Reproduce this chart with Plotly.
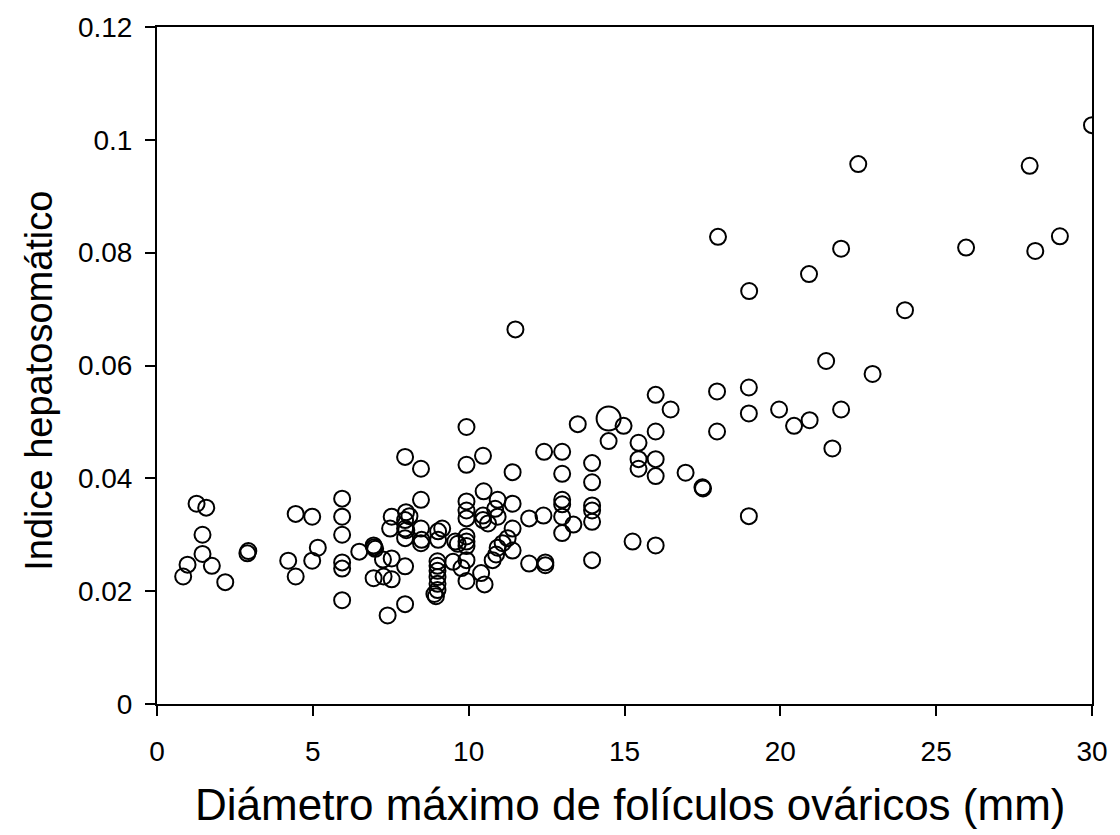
import plotly.graph_objects as go

# Diámetro máximo de folículos ováricos (mm) e índice hepatosomático por hembra
diametro = [
    1.27, 1.58, 1.46, 1.46, 0.98, 1.76, 0.84, 2.19, 2.93, 2.90,
    4.45, 4.98, 5.94, 5.94, 5.94, 5.16, 4.98, 4.21, 4.45, 5.94,
    5.94, 5.94, 6.49, 6.95, 6.97, 7.00, 6.95,
    7.27, 7.53, 7.40, 7.25, 7.53, 7.53, 7.48, 7.96, 8.47, 8.47,
    7.99, 8.10, 7.96, 7.96, 8.00, 8.47, 7.96, 8.49, 8.47, 7.96,
    7.96, 9.02, 9.15, 9.02,
    9.00, 9.00, 9.00, 9.00, 9.00, 9.00, 8.90, 8.95,
    9.57, 9.65, 9.50, 9.77, 9.93, 9.93, 9.93, 9.93, 9.93, 9.93,
    9.93, 9.93, 9.93, 9.93, 10.46, 10.48, 10.46, 10.46, 10.62, 10.40,
    10.51,
    10.93, 10.85, 10.93, 11.41, 11.41, 11.41, 11.25, 11.09, 10.93, 11.41,
    10.88, 10.77, 11.50, 11.94, 11.94, 12.40, 12.42, 12.46, 12.46,
    13.00, 13.00, 13.00, 13.00, 13.00, 13.00, 13.36, 13.50, 13.96, 13.96,
    13.96, 13.96, 13.96, 13.96,
    14.49, 14.97, 15.45, 15.45, 15.45, 15.26, 16.00, 16.00, 16.00, 16.00,
    16.00, 16.48, 16.96, 17.50, 17.52,
    17.97, 17.97, 18.00, 18.99, 18.99, 18.99, 19.00, 19.96, 20.44, 20.94,
    20.92, 21.47, 21.67, 21.95, 21.95, 22.50, 22.96, 24.00, 25.96, 28.00,
    28.18, 28.97, 30.00,
]

ihs = [
    0.0355, 0.0348, 0.0300, 0.0266, 0.0247, 0.0245, 0.0226, 0.0216, 0.0271, 0.0267,
    0.0337, 0.0332, 0.0364, 0.0332, 0.0300, 0.0277, 0.0254, 0.0254, 0.0226, 0.0251,
    0.0240, 0.0184, 0.0270, 0.0281, 0.0278, 0.0275, 0.0223,
    0.0226, 0.0221, 0.0157, 0.0256, 0.0258, 0.0332, 0.0311, 0.0438, 0.0417, 0.0362,
    0.0340, 0.0333, 0.0326, 0.0311, 0.0308, 0.0311, 0.0294, 0.0291, 0.0285, 0.0244,
    0.0177, 0.0306, 0.0311, 0.0291,
    0.0253, 0.0245, 0.0236, 0.0225, 0.0213, 0.0202, 0.0195, 0.0191,
    0.0288, 0.0284, 0.0252, 0.0241, 0.0255, 0.0218, 0.0491, 0.0424, 0.0359, 0.0343,
    0.0329, 0.0297, 0.0288, 0.0280, 0.0440, 0.0377, 0.0334, 0.0326, 0.0320, 0.0232,
    0.0212,
    0.0362, 0.0346, 0.0332, 0.0411, 0.0355, 0.0311, 0.0294, 0.0285, 0.0277, 0.0272,
    0.0265, 0.0255, 0.0664, 0.0329, 0.0249, 0.0334, 0.0447, 0.0251, 0.0246,
    0.0447, 0.0408, 0.0362, 0.0354, 0.0332, 0.0303, 0.0318, 0.0496, 0.0427, 0.0393,
    0.0352, 0.0343, 0.0323, 0.0255,
    0.0466, 0.0493, 0.0463, 0.0434, 0.0417, 0.0288, 0.0548, 0.0483, 0.0434, 0.0404,
    0.0281, 0.0522, 0.0410, 0.0384, 0.0382,
    0.0554, 0.0483, 0.0828, 0.0561, 0.0515, 0.0333, 0.0732, 0.0522, 0.0493, 0.0503,
    0.0762, 0.0608, 0.0453, 0.0522, 0.0807, 0.0957, 0.0585, 0.0698, 0.0809, 0.0954,
    0.0803, 0.0829, 0.1026,
]

# Registro destacado con marcador mayor
diametro_destacado = [14.49]
ihs_destacado = [0.0506]

x_ticks = [0, 5, 10, 15, 20, 25, 30]
y_ticks = [0, 0.02, 0.04, 0.06, 0.08, 0.1, 0.12]
y_tick_text = ["0", "0.02", "0.04", "0.06", "0.08", "0.1", "0.12"]

FONT = "Liberation Sans, Arial, sans-serif"

fig = go.Figure()
fig.add_trace(go.Scatter(
    x=diametro, y=ihs, mode="markers",
    marker=dict(symbol="circle-open", size=16, color="black",
                line=dict(width=2, color="black")),
    hoverinfo="x+y", showlegend=False,
))
fig.add_trace(go.Scatter(
    x=diametro_destacado, y=ihs_destacado, mode="markers",
    marker=dict(symbol="circle-open", size=24, color="black",
                line=dict(width=2, color="black")),
    hoverinfo="x+y", showlegend=False,
))

axis_common = dict(
    showgrid=False, zeroline=False, showline=True, linecolor="black",
    linewidth=2, mirror=True, ticks="outside", ticklen=10, tickwidth=2,
    tickcolor="black", tickfont=dict(family=FONT, size=28, color="black"),
)

fig.update_layout(
    width=1120, height=835,
    margin=dict(l=157, r=22, t=21, b=131),
    paper_bgcolor="white", plot_bgcolor="white",
    font=dict(family=FONT, color="black"),
    xaxis=dict(range=[0, 30], tickvals=x_ticks, ticklabelstandoff=11,
               **axis_common),
    yaxis=dict(range=[0, 0.12], tickvals=y_ticks, ticktext=y_tick_text,
               ticklabelstandoff=7, **axis_common),
    annotations=[
        dict(text="Diámetro máximo de folículos ováricos (mm)",
             xref="paper", yref="paper", x=0.506, y=-0.148,
             xanchor="center", yanchor="middle", showarrow=False,
             font=dict(family=FONT, size=44, color="black")),
        dict(text="Indice hepatosomático",
             xref="paper", yref="paper", x=-0.1265, y=0.477,
             xanchor="center", yanchor="middle", textangle=-90,
             showarrow=False,
             font=dict(family=FONT, size=38, color="black")),
    ],
)

fig.write_html("out.html")
